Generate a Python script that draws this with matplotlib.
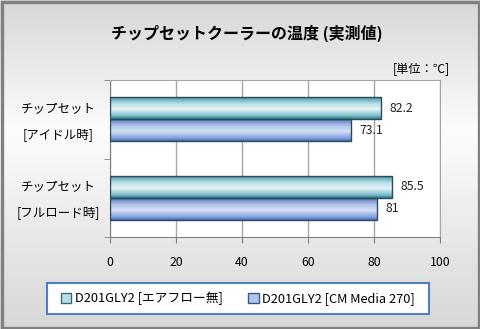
import numpy as np
import matplotlib
matplotlib.use("Agg")
import matplotlib.pyplot as plt
from matplotlib.colors import LinearSegmentedColormap
from matplotlib.patches import Rectangle, Patch
from matplotlib.transforms import ScaledTranslation

plt.rcParams['font.family'] = ['Noto Sans CJK JP', 'DejaVu Sans']

# data
categories = ['チップセット\n[アイドル時]', 'チップセット\n[フルロード時]']
series_names = ['D201GLY2 [エアフロー無]', 'D201GLY2 [CM Media 270]']
air_none = [82.2, 85.5]
cm_media = [73.1, 81]
value_labels_1 = ['82.2', '85.5']
value_labels_2 = ['73.1', '81']

W, H = 481, 329
fig = plt.figure(figsize=(W / 100, H / 100), dpi=100)

# background gradient + border
bg = fig.add_axes([0, 0, 1, 1], zorder=-10)
bg.set_axis_off()
grad = np.concatenate([np.linspace(0.84, 0.985, 40), np.linspace(0.985, 0.84, 60)])
bg.imshow(grad[:, None], cmap='gray', vmin=0, vmax=1, aspect='auto',
          extent=[0, 1, 0, 1], origin='upper')
bg.set_xlim(0, 1)
bg.set_ylim(0, 1)
bg.add_patch(Rectangle((1.5 / W, 1.5 / H), 1 - 3 / W, 1 - 3 / H, fill=False,
                       edgecolor='#808080', linewidth=2.4))

# legend box
bg.add_patch(Rectangle((47 / W, 1 - 314 / H), 382 / W, 31 / H, facecolor='white',
                       edgecolor='#4f7fbf', linewidth=1.5))

ax = fig.add_axes([110 / W, 1 - 237 / H, 330 / W, 157 / H])
ax.set_facecolor('white')

cmap1 = LinearSegmentedColormap.from_list('c1', [
    (0.0, '#2f7f8f'), (0.15, '#7fbfcc'), (0.45, '#e6f4f7'),
    (0.7, '#b8dfe6'), (0.9, '#6fb2c0'), (1.0, '#3a8a9a')])
cmap2 = LinearSegmentedColormap.from_list('c2', [
    (0.0, '#4a6fb8'), (0.15, '#8aa8dd'), (0.45, '#d4e0f5'),
    (0.7, '#b0c6ec'), (0.9, '#7694d2'), (1.0, '#4a6ab0')])

y = np.arange(len(categories))
h = 0.28
gvals = np.linspace(0, 1, 64)[:, None]
for vals, off, cm in [(air_none, -h / 2, cmap1), (cm_media, h / 2, cmap2)]:
    bars = ax.barh(y + off, vals, height=h, facecolor='none',
                   edgecolor='#2b4a5a', linewidth=1.0, zorder=4)
    for b, v in zip(bars, vals):
        yc = b.get_y()
        ax.imshow(gvals, cmap=cm, aspect='auto', zorder=3,
                  extent=[0, v, yc + h, yc], origin='lower', interpolation='bilinear')

for yy, v, lab in zip(y - h / 2, air_none, value_labels_1):
    ax.annotate(lab, (v, yy), xytext=(6, 0), textcoords='offset points',
                va='center', ha='left', fontsize=8.8, color='#222222')
for yy, v, lab in zip(y + h / 2, cm_media, value_labels_2):
    ax.annotate(lab, (v, yy), xytext=(6, 0), textcoords='offset points',
                va='center', ha='left', fontsize=8.8, color='#222222')

ax.set_xlim(0, 100)
ax.set_ylim(1.5, -0.5)
ax.set_xticks(np.arange(0, 101, 20))
ax.xaxis.grid(True, color='#a6a6a6', linewidth=1.0)
ax.set_axisbelow(True)
ax.set_yticks(y)
ax.set_yticklabels(categories, fontsize=9, linespacing=2.3, ha='center')
ax.tick_params(axis='y', length=0, pad=37)
shift = ScaledTranslation(0, 6 / 100, fig.dpi_scale_trans)
for lbl in ax.get_yticklabels():
    lbl.set_transform(lbl.get_transform() + shift)
ax.set_yticks([-0.5, 0.5, 1.5], minor=True)
ax.tick_params(axis='y', which='minor', length=4, color='#808080', direction='out')
ax.tick_params(axis='x', length=4, color='#808080', direction='out', labelsize=8.8, pad=10)
for s in ['top', 'right']:
    ax.spines[s].set_color('#a6a6a6')
for s in ['left', 'bottom']:
    ax.spines[s].set_color('#808080')

fig.text(247 / W, 1 - 33 / H, 'チップセットクーラーの温度 (実測値)', ha='center', va='center',
         fontsize=11.5, fontweight='bold')
fig.text(450 / W, 1 - 69 / H, '[単位：℃]', ha='right', va='center', fontsize=8.8)

handles = [Patch(facecolor='#b8dfe6', edgecolor='#3a6a7a'),
           Patch(facecolor='#b0c6ec', edgecolor='#3a5a8a')]
fig.legend(handles, series_names, loc='center', bbox_to_anchor=(238 / W, 1 - 298.5 / H),
           ncol=2, frameon=False, fontsize=9.2, handlelength=0.8, handleheight=0.8,
           handletextpad=0.3, columnspacing=2.0)

fig.savefig('out.png', dpi=100)
